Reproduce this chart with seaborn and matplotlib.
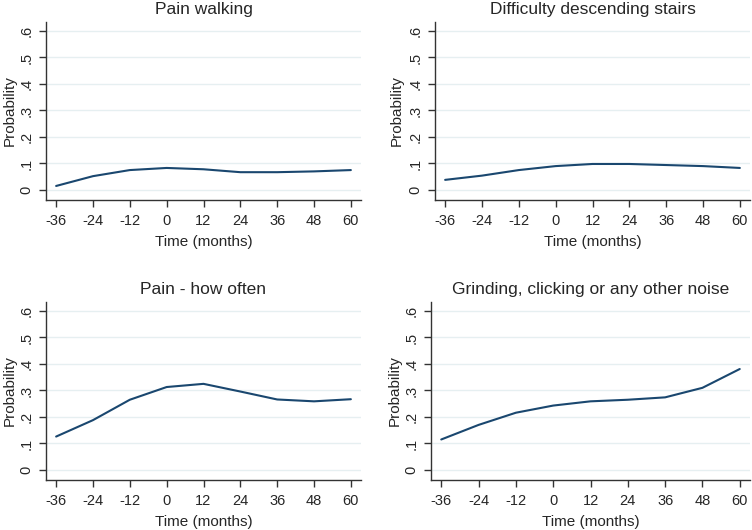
import numpy as np
import pandas as pd
import seaborn as sns
import matplotlib
matplotlib.use("Agg")
import matplotlib.pyplot as plt

# time points (months relative to surgery)
months = [-36, -24, -12, 0, 12, 24, 36, 48, 60]

pain_walking = [0.015, 0.052, 0.075, 0.083, 0.078, 0.067, 0.067, 0.070, 0.075]
difficulty_stairs = [0.038, 0.054, 0.075, 0.090, 0.098, 0.098, 0.094, 0.090, 0.083]
pain_how_often = [0.126, 0.188, 0.265, 0.313, 0.325, 0.296, 0.266, 0.259, 0.267]
grinding_noise = [0.115, 0.170, 0.216, 0.243, 0.259, 0.265, 0.274, 0.310, 0.381]

titles = ["Pain walking", "Difficulty descending stairs",
          "Pain - how often", "Grinding, clicking or any other noise"]
series = [pain_walking, difficulty_stairs, pain_how_often, grinding_noise]
ytick_vals = [0, 0.1, 0.2, 0.3, 0.4, 0.5, 0.6]
ytick_labels = ["0", ".1", ".2", ".3", ".4", ".5", ".6"]

sns.set_style("white")
plt.rcParams["font.family"] = ["Liberation Sans", "DejaVu Sans"]

fig = plt.figure(figsize=(7.52, 5.30), dpi=100)
W, H = 752, 530
# axes boxes in pixels: left, top, right, bottom, ylabel centre x
boxes = [(46, 22, 361, 200, 10), (435, 22, 750, 200, 397),
         (46, 302, 361, 480, 10), (431, 302, 750, 480, 395)]

navy = "#1a476f"
grid_c = "#e6eff1"

for box, title, vals in zip(boxes, titles, series):
    l, t, r, b, lx = box
    ax = fig.add_axes([l / W, 1 - b / H, (r - l) / W, (b - t) / H])
    df = pd.DataFrame({"Time (months)": months, "Probability": vals})
    sns.lineplot(data=df, x="Time (months)", y="Probability", ax=ax,
                 color=navy, linewidth=1.5)
    ax.set_xlim(-39.3, 63.3)
    ax.set_ylim(-0.038, 0.634)
    ax.set_xticks(months)
    ax.set_xticklabels([str(m) for m in months], fontsize=10.5)
    ax.set_yticks(ytick_vals)
    ax.set_yticklabels(ytick_labels, fontsize=10.5, rotation=90, va="center")
    ax.yaxis.grid(True, color=grid_c, linewidth=1.0)
    ax.xaxis.grid(False)
    for s in ["top", "right"]:
        ax.spines[s].set_visible(False)
    for s in ["left", "bottom"]:
        ax.spines[s].set_color("#333333")
        ax.spines[s].set_linewidth(1.0)
    ax.tick_params(axis="both", direction="out", length=5, width=1.0,
                   color="#333333", left=True, bottom=True)
    ax.tick_params(axis="y", pad=4)
    ax.tick_params(axis="x", pad=5)
    ax.set_xlabel("Time (months)", fontsize=11, labelpad=5)
    ax.set_ylabel("")
    fig.text(lx / W, 1 - (t + b) / 2 / H, "Probability", fontsize=11,
             rotation=90, ha="center", va="center")
    ax.set_title(title, fontsize=12.5, pad=6)

fig.savefig("out.png", dpi=100, facecolor="white")
